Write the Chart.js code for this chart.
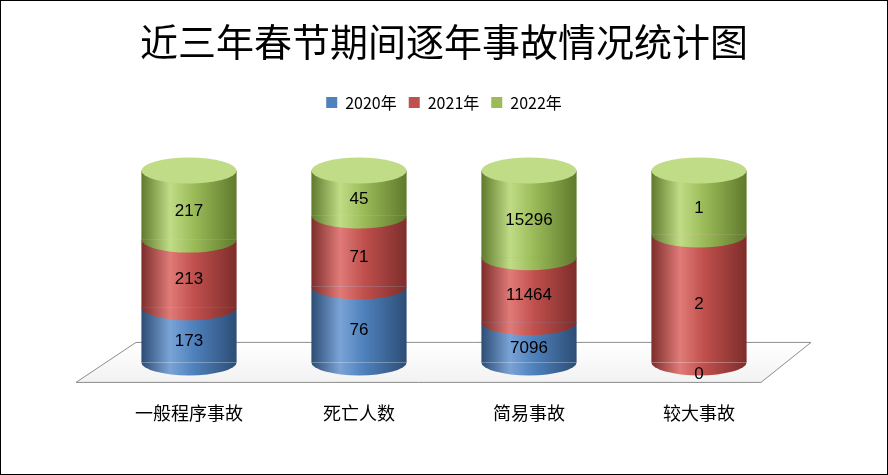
<!DOCTYPE html>
<html><head><meta charset="utf-8">
<script src="https://cdn.jsdelivr.net/npm/chart.js@4"></script>
<style>
body{margin:0;background:#fff}
#wrap{position:absolute;left:0;top:0;width:886px;height:473px;border:1px solid #000}
</style></head>
<body><div id="wrap"><canvas id="c"></canvas></div>
<script>
const categories = ["一般程序事故", "死亡人数", "简易事故", "较大事故"];
const series = ["2020年", "2021年", "2022年"];
const v2020 = [173, 76, 7096, 0];
const v2021 = [213, 71, 11464, 2];
const v2022 = [217, 45, 15296, 1];
const colors = [["#4F81BD", "#2c4d75", "#7aa3d6"], ["#C0504D", "#7d2d2b", "#e07b78"], ["#9BBB59", "#5f7a2c", "#c0dc86"]];

const raw = [v2020, v2021, v2022];
const totals = categories.map((_, i) => raw.reduce((s, a) => s + a[i], 0));
const pct = raw.map(a => a.map((v, i) => v / totals[i] * 100));

function grad(ctx, x0, x1, c) {
  let g = ctx.createLinearGradient(x0, 0, x1, 0);
  g.addColorStop(0, c[1]); g.addColorStop(0.3, c[2]); g.addColorStop(0.55, c[0]); g.addColorStop(1, c[1]);
  return g;
}

const cylinder = {
  id: "cylinder",
  beforeDatasetsDraw(chart) {
    const ctx = chart.ctx, a = chart.chartArea;
    ctx.save();
    ctx.beginPath();
    ctx.moveTo(a.left - 28, a.bottom + 20);
    ctx.lineTo(a.left + 32, a.bottom - 20);
    ctx.lineTo(a.right + 27, a.bottom - 20);
    ctx.lineTo(a.right - 23, a.bottom + 20);
    ctx.closePath();
    let g = ctx.createLinearGradient(0, a.bottom - 20, 0, a.bottom + 20);
    g.addColorStop(0, "#ffffff"); g.addColorStop(1, "#f2f2f2");
    ctx.fillStyle = g; ctx.fill();
    ctx.strokeStyle = "#8c8c8c"; ctx.lineWidth = 1; ctx.stroke();
    ctx.restore();
  },
  afterDatasetsDraw(chart) {
    const ctx = chart.ctx;
    const ry = 13;
    ctx.save();
    categories.forEach((_, i) => {
      let topSeg = null;
      raw.forEach((arr, d) => {
        const el = chart.getDatasetMeta(d).data[i];
        const rx = el.width / 2, x0 = el.x - rx, x1 = el.x + rx;
        const top = Math.min(el.y, el.base), bot = Math.max(el.y, el.base);
        if (bot - top > 0.5) {
          ctx.fillStyle = grad(ctx, x0, x1, colors[d]);
          ctx.fillRect(x0, top, el.width, bot - top);
          ctx.beginPath();
          ctx.ellipse(el.x, bot, rx, ry, 0, 0, Math.PI);
          ctx.fill();
          topSeg = { el, d, top, rx };
        }
      });
      if (topSeg) {
        ctx.beginPath();
        ctx.ellipse(topSeg.el.x, topSeg.top, topSeg.rx, ry, 0, 0, Math.PI * 2);
        ctx.fillStyle = colors[topSeg.d][2];
        ctx.fill();
      }
      ctx.fillStyle = "#000";
      ctx.font = "17px 'Liberation Sans', Arial, sans-serif";
      ctx.textAlign = "center"; ctx.textBaseline = "middle";
      raw.forEach((arr, d) => {
        const el = chart.getDatasetMeta(d).data[i];
        const top = Math.min(el.y, el.base), bot = Math.max(el.y, el.base);
        const y = bot - top < 1 ? bot + 12 : (top + bot) / 2 + 6;
        ctx.fillText(String(arr[i]), el.x, y);
      });
    });
    ctx.restore();
  }
};

new Chart(document.getElementById("c"), {
  type: "bar",
  data: {
    labels: categories,
    datasets: series.map((s, d) => ({
      label: s, data: pct[d], backgroundColor: "rgba(0,0,0,0)",
      barPercentage: 0.56, categoryPercentage: 1
    }))
  },
  options: {
    responsive: true, maintainAspectRatio: false, animation: false,
    layout: { padding: { left: 103, right: 103, top: 6, bottom: 18 } },
    plugins: {
      title: { display: true, text: "近三年春节期间逐年事故情况统计图", color: "#000",
        font: { size: 38, family: "'Noto Sans CJK SC', sans-serif", weight: "normal" }, padding: { top: 12, bottom: 18 } },
      legend: { labels: { boxWidth: 11, boxHeight: 11, color: "#000", padding: 12, font: { size: 16, family: "'Noto Sans CJK SC', sans-serif" },
        generateLabels: ch => series.map((s, d) => ({ text: s, fillStyle: colors[d][0], strokeStyle: colors[d][0], lineWidth: 0, datasetIndex: d })) } },
      tooltip: { enabled: false }
    },
    scales: {
      x: { stacked: true, grid: { display: false }, border: { display: false },
        ticks: { color: "#000", padding: 32, font: { size: 18, family: "'Noto Sans CJK SC', sans-serif" } } },
      y: { stacked: true, min: 0, max: 100, display: false }
    }
  },
  plugins: [cylinder, {
    id: "gap",
    beforeInit(chart) {
      const fit = chart.legend.fit;
      chart.legend.fit = function () { fit.bind(chart.legend)(); this.height += 50; };
    }
  }]
});
</script></body></html>
